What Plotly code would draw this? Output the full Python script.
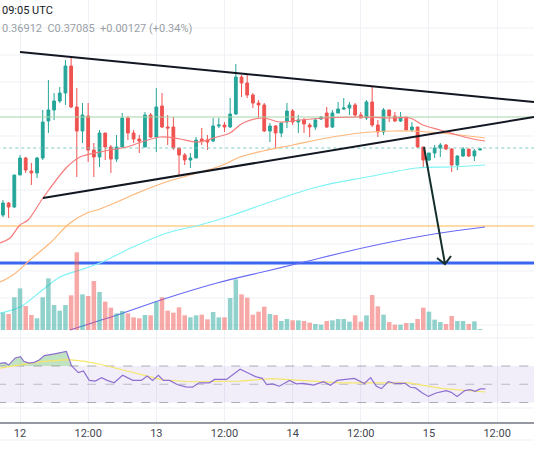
import plotly.graph_objects as go
import numpy as np

# ---- data (price readings in chart-pixel units, converted below) ----
hours = list(range(-3, 82))  # hourly candles, hour 0 = day 12 00:00
o_r = [215,203,207,175,158,171,173,158,121,110,101,93,66,107,131,116,150,157,133,147,159,147,118,133,139,147,115,137,106,127,
       127,148,155,160,158,139,140,141,126,125,127,114,77,83,95,103,105,131,126,133,122,111,122,120,125,127,119,113,127,113,
       109,108,105,115,118,102,125,132,110,116,121,117,130,127,147,160,153,148,145,149,165,156,149,156,150]
c_r = [203,207,175,158,170,173,158,122,110,101,93,66,107,131,115,150,157,133,147,159,147,118,133,139,141,115,137,107,127,128,
       148,155,160,158,140,141,142,126,125,127,114,77,83,95,103,105,131,126,133,123,111,122,120,124,127,120,117,127,113,109,
       108,105,115,118,102,125,132,110,116,121,117,130,127,147,160,153,148,145,149,165,156,149,156,151,149]
h_r = [200,202,175,155,157,163,157,110,80,93,87,60,57,88,103,103,143,130,133,145,135,113,116,130,135,112,113,88,93,115,
       117,148,153,153,137,128,135,118,118,122,98,64,75,75,93,100,103,123,125,122,103,109,115,118,123,118,116,107,110,102,
       98,102,103,112,100,87,120,108,110,112,112,117,122,127,147,153,145,143,144,148,155,147,149,149,148]
l_r = [217,218,208,175,173,185,178,160,133,120,103,105,108,177,143,162,177,167,160,173,162,148,140,143,153,147,138,152,128,145,
       150,175,165,168,158,145,150,142,128,132,128,115,97,98,108,118,132,142,148,137,128,125,133,133,137,130,120,128,128,113,
       110,115,117,118,120,127,137,135,122,122,122,130,132,148,168,161,158,157,150,172,170,157,157,161,150]
volume = [52,48,98,125,72,45,35,98,155,75,58,75,104,233,107,102,147,114,85,67,50,57,50,38,35,45,44,85,98,58,
          52,68,44,38,44,46,32,54,38,38,96,152,107,97,46,55,70,48,45,27,33,29,29,27,22,18,16,27,29,33,
          33,25,44,25,44,105,71,46,24,16,16,21,21,33,67,55,31,24,18,42,27,27,18,26,3]

ma_fast_x = [0,10,20,28,43,67,80,100,127,130,160,180,197,217,230,243,263,280,300,327,360,393,410,423,440,457,473,485]
ma_fast_y = [243,238,225,220,198,167,157,152,147,146,137,139,142,137,133,123,118,122,120,118,117,118,118,125,130,135,139,141]
ma_mid_x = [0,13,30,50,70,87,97,117,135,163,197,223,240,263,293,327,360,393,410,440,485]
ma_mid_y = [282,275,260,243,223,213,210,202,194,183,173,165,157,151,145,138,133,131,131,133,138]
ma_slow_x = [0,20,40,60,80,100,133,167,200,233,267,317,367,417,450,485]
ma_slow_y = [313,307,292,277,270,263,247,233,225,215,203,187,177,168,167,165]
ma_long_x = [70,117,167,217,267,300,367,434,485]
ma_long_y = [330,315,298,283,271,263,247,234,227]

rsi_zx = [0,15,25,45,60,70,85,100,115,130,160,195,210,230,245,262,280,298,315,335,360,390,415,432,448,465,480,498,520,545,
          565,585,615,630,665,685,705,730,750,770,783,800,820,850,870,890,920,950,970,990,1040,1070,1088,1105,1120,1140,1160,
          1190,1205,1220,1240,1258,1280,1310,1325,1342,1365,1380,1395,1410,1425]
rsi_zy = [98,96,103,82,78,92,97,95,88,75,70,63,105,125,120,148,150,140,148,155,133,148,148,135,148,133,148,148,160,167,
          168,155,155,145,145,130,115,127,137,142,160,158,165,148,158,157,162,152,162,148,142,157,140,165,172,152,157,
          157,168,170,185,195,185,178,183,195,178,175,180,173,173]
sig_zx = [0,60,120,200,250,300,400,480,560,700,800,900,1000,1100,1200,1300,1425]
sig_zy = [112,103,93,87,92,102,127,147,152,150,143,148,155,155,155,172,182]

level_green, level_orange, level_blue, last_px = 117, 226, 263, 148
tri_top = [(20, 52), (534, 102)]
tri_bot = [(43, 198), (534, 117)]
arrow_pts = [(424, 147), (445, 264), (437, 258), (445, 264), (451, 256)]

day_ticks = [0, 12, 24, 36, 48, 60, 72, 84]
day_labels = ["12", "12:00", "13", "12:00", "14", "12:00", "15", "12:00"]

# ---- scales ----
PLOT_H = 422
PXH = 5.68
def px2h(x): return (np.asarray(x, float) - 20) / PXH
def px2p(y): return (3858 - np.asarray(y, float)) / 1e4
def px2rsi(y): return 70 - (np.asarray(y, float) - 366) / 0.9125
def z2y(zy): return 330 + np.asarray(zy, float) / 2.936

GREEN, RED = "#26a69a", "#ef5350"
O, C, H, L = px2p(o_r), px2p(c_r), px2p(h_r), px2p(l_r)
up = C >= O

fig = go.Figure()
fig.add_trace(go.Bar(x=hours, y=volume, yaxis="y2", width=0.8,
                     marker=dict(color=["rgba(38,166,154,0.5)" if u else "rgba(239,83,80,0.5)" for u in up], line_width=0),
                     hoverinfo="skip"))
fig.add_trace(go.Scatter(x=[-4, 91], y=[70, 70], yaxis="y3", mode="lines",
                         line=dict(color="rgba(120,123,134,0.6)", dash="dash", width=1)))
fig.add_trace(go.Scatter(x=[-4, 91], y=[30, 30], yaxis="y3", mode="lines", fill="tonexty",
                         fillcolor="rgba(126,87,194,0.1)", line=dict(color="rgba(120,123,134,0.6)", dash="dash", width=1)))
fig.add_trace(go.Scatter(x=[-4, 91], y=[50, 50], yaxis="y3", mode="lines",
                         line=dict(color="rgba(120,123,134,0.45)", dash="dash", width=1)))
rx = px2h(np.asarray(rsi_zx) / 2.936)
rv = px2rsi(z2y(rsi_zy))
fig.add_trace(go.Scatter(x=rx, y=np.full(len(rx), 70.0), yaxis="y3", mode="lines", line=dict(width=0)))
fig.add_trace(go.Scatter(x=rx, y=np.maximum(rv, 70), yaxis="y3", mode="lines", line=dict(width=0),
                         fill="tonexty", fillcolor="rgba(76,175,80,0.35)"))
fig.add_trace(go.Scatter(x=px2h(np.asarray(sig_zx) / 2.936), y=px2rsi(z2y(sig_zy)), yaxis="y3", mode="lines",
                         line=dict(color="#f5e56b", width=1.2)))
fig.add_trace(go.Scatter(x=rx, y=rv, yaxis="y3", mode="lines", line=dict(color="#8e6fd1", width=1.2)))

for lv, col, w, d in [(level_green, "#a5d6a7", 1.2, "solid"), (level_orange, "#ffb74d", 1.2, "solid"),
                      (level_blue, "#3a66f0", 3, "solid"), (last_px, "#80cbc4", 1, "dot")]:
    fig.add_trace(go.Scatter(x=[-4, 91], y=[px2p(lv)] * 2, mode="lines", line=dict(color=col, width=w, dash=d)))

for xs, ys, col in [(ma_long_x, ma_long_y, "#6a6af5"), (ma_slow_x, ma_slow_y, "#7ff3f5"),
                    (ma_mid_x, ma_mid_y, "#ffb77a"), (ma_fast_x, ma_fast_y, "#f77b7b")]:
    fig.add_trace(go.Scatter(x=px2h(xs), y=px2p(ys), mode="lines", line=dict(color=col, width=1.2, shape="spline")))

fig.add_trace(go.Candlestick(x=hours, open=O, high=H, low=L, close=C,
                             increasing=dict(line=dict(color=GREEN, width=1), fillcolor=GREEN),
                             decreasing=dict(line=dict(color=RED, width=1), fillcolor=RED),
                             whiskerwidth=0))

for seg in (tri_top, tri_bot):
    fig.add_trace(go.Scatter(x=px2h([p[0] for p in seg]), y=px2p([p[1] for p in seg]), mode="lines",
                             line=dict(color="#131722", width=2)))
fig.add_trace(go.Scatter(x=px2h([p[0] for p in arrow_pts]), y=px2p([p[1] for p in arrow_pts]), mode="lines",
                         line=dict(color="#15302c", width=2)))

xr = [float(px2h(0)), float(px2h(534))]
fig.update_layout(
    width=534, height=462, margin=dict(l=0, r=0, t=0, b=40),
    paper_bgcolor="white", plot_bgcolor="white", showlegend=False,
    font=dict(family="Roboto, Liberation Sans, sans-serif", size=11, color="#434651"),
    xaxis=dict(range=xr, tickvals=day_ticks, ticktext=day_labels, showgrid=True, gridcolor="#eef1f6",
               showline=True, linecolor="#9598a1", linewidth=1.5, ticks="", zeroline=False,
               rangeslider=dict(visible=False), fixedrange=True),
    yaxis=dict(range=[float(px2p(PLOT_H)), float(px2p(0))], showticklabels=False, showgrid=False, zeroline=False),
    yaxis2=dict(overlaying="y", domain=[0, 1], range=[-(PLOT_H - 330) * 3, 990], showticklabels=False,
                showgrid=False, zeroline=False),
    yaxis3=dict(overlaying="y", range=[float(px2rsi(PLOT_H)), float(px2rsi(0))], showticklabels=False,
                showgrid=False, zeroline=False),
)
shapes = []
for gy in list(range(28, 330, 27)) + [338, 408]:
    shapes.append(dict(type="line", xref="paper", yref="paper", x0=0, x1=1,
                       y0=(PLOT_H - gy) / PLOT_H, y1=(PLOT_H - gy) / PLOT_H,
                       line=dict(color="#eef1f6", width=1), layer="below"))
shapes.append(dict(type="line", xref="paper", yref="paper", x0=0, x1=1, y0=(PLOT_H - 440) / PLOT_H,
                   y1=(PLOT_H - 440) / PLOT_H, line=dict(color="#eef1f6", width=1)))
fig.update_layout(shapes=shapes)
fig.add_annotation(text="09:05 UTC", xref="paper", yref="paper", x=0.0, y=(PLOT_H - 11) / PLOT_H,
                   xanchor="left", yanchor="middle", showarrow=False, font=dict(size=11, color="#131722"))
fig.add_annotation(text="0.36912  C0.37085  +0.00127 (+0.34%)", xref="paper", yref="paper", x=0.0,
                   y=(PLOT_H - 29) / PLOT_H, xanchor="left", yanchor="middle", showarrow=False,
                   font=dict(size=11, color="#9aa0a6"))
fig.write_html("out.html", config={"displayModeBar": False},
               post_script="document.body.style.margin='0';document.body.style.overflow='hidden';")
